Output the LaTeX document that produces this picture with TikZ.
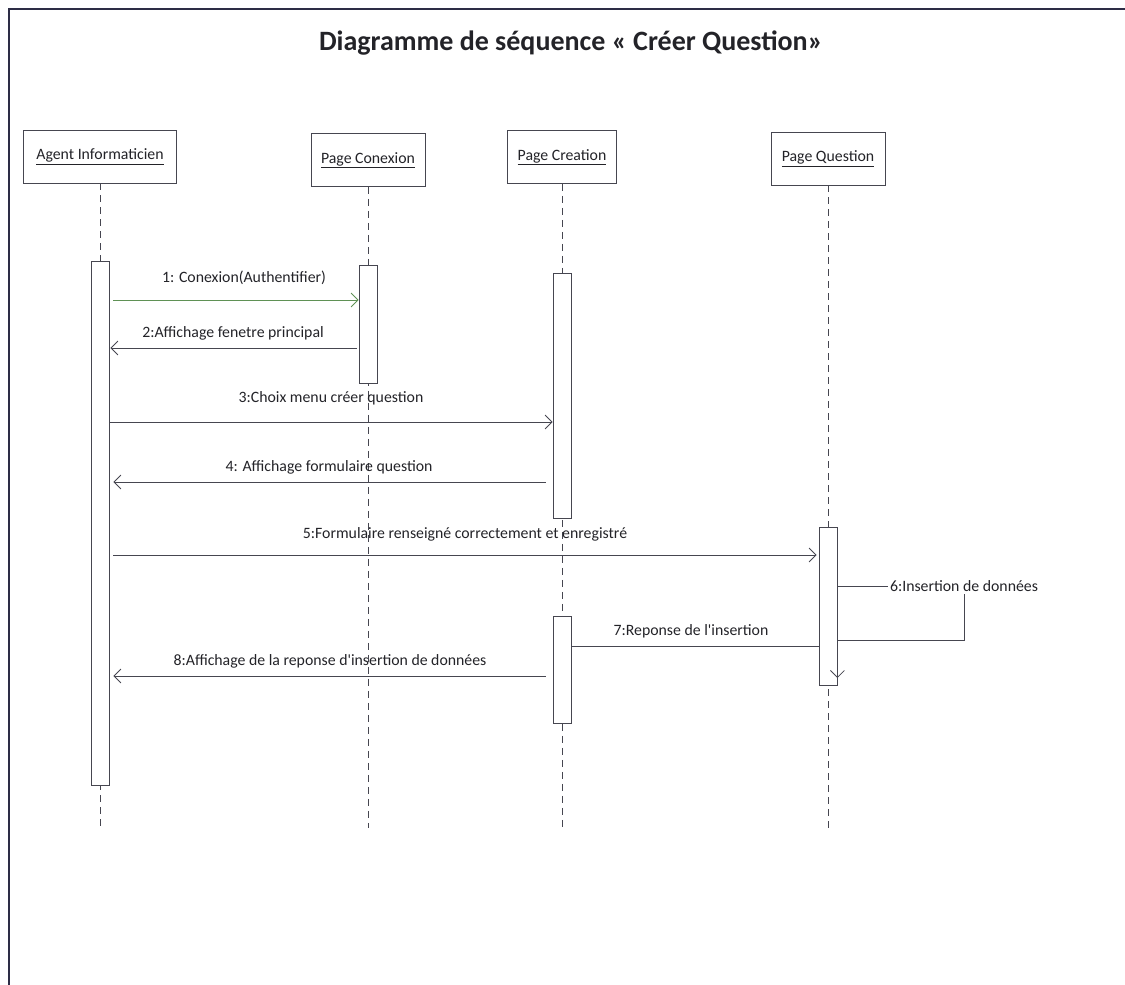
\documentclass[tikz,border=0pt]{standalone}
\usepackage{fontspec}
\setmainfont{Carlito}
\usetikzlibrary{arrows.meta}

\definecolor{linecol}{RGB}{70,70,80}
\definecolor{textcol}{RGB}{35,35,40}
\definecolor{framecol}{RGB}{45,45,70}
\definecolor{greencol}{RGB}{95,145,85}

\begin{document}
\begin{tikzpicture}[x=1pt,y=-1pt,
  lbl/.style={font=\fontsize{15.8}{18}\selectfont, text=textcol, inner sep=1pt},
  head/.style={draw=linecol, line width=0.8pt, fill=white, inner sep=0pt,
    minimum height=53pt, font=\fontsize{15.8}{18}\selectfont, text=textcol},
  lifeline/.style={draw=linecol, line width=0.8pt, dash pattern=on 7pt off 5pt},
  act/.style={draw=linecol, line width=0.8pt, fill=white, inner sep=0pt,
    minimum width=18pt},
  msg/.style={draw=linecol, line width=0.8pt},
  tip/.style={-{Straight Barb[length=7pt,width=14pt,line width=0.8pt]}}
]
\useasboundingbox (0,0) rectangle (1125,985);

% page frame (top and left edges)
\draw[framecol, line width=1.6pt] (9,985) -- (9,9) -- (1125,9);

% title
\node[font=\bfseries\fontsize{28}{32}\selectfont, text=textcol] (title) at (571,43)
  {Diagramme de séquence « Créer Question»};

% participants
\node[head, minimum width=153pt] (agent) at (100,156.5) {\underline{Agent Informaticien}};
\node[head, minimum width=114pt] (conx)  at (368,160)   {\underline{Page Conexion}};
\node[head, minimum width=109pt] (crea)  at (562,157)   {\underline{Page Creation}};
\node[head, minimum width=114pt] (ques)  at (828,158.5) {\underline{Page Question}};

% lifeline ends
\coordinate (agentEnd) at (100,828);
\coordinate (conxEnd)  at (368,828);
\coordinate (creaEnd)  at (562,828);
\coordinate (quesEnd)  at (828,828);

\draw[lifeline] (agent.south) -- (agentEnd);
\draw[lifeline] (conx.south)  -- (conxEnd);
\draw[lifeline] (crea.south)  -- (creaEnd);
\draw[lifeline] (ques.south)  -- (quesEnd);

% activation bars
\node[act, minimum height=524pt] (actA)  at (100,523)   {};
\node[act, minimum height=118pt] (actC)  at (368,324)   {};
\node[act, minimum height=245pt] (actR1) at (562,395.5) {};
\node[act, minimum height=158pt] (actQ)  at (828,606)   {};
\node[act, minimum height=107pt] (actR2) at (562,669.5) {};

% message labels
\node[lbl] (l1) at (244,278) {1: Conexion(Authentifier)};
\node[lbl] (l2) at (233,333) {2:Affichage fenetre principal};
\node[lbl] (l3) at (331,398) {3:Choix menu créer question};
\node[lbl] (l4) at (329,467) {4: Affichage formulaire question};
\node[lbl] (l5) at (465,534) {5:Formulaire renseigné correctement et enregistré};
\node[lbl] (l7) at (691,631) {7:Reponse de l\textquotesingle insertion};
\node[lbl] (l8) at (330,661) {8:Affichage de la reponse d\textquotesingle insertion de données};

% messages
\draw[msg, tip, draw=greencol, shorten <=4pt] (actA.east |- 0,300) -- (actC.west |- 0,300);
\draw[msg, tip, shorten <=2pt, shorten >=1pt] (actC.west |- 0,348) -- (actA.east |- 0,348);
\draw[msg, tip, shorten <=1pt] (actA.east |- 0,422) -- (actR1.west |- 0,422);
\draw[msg, tip, shorten <=7pt, shorten >=4pt] (actR1.west |- 0,482) -- (actA.east |- 0,482);
\draw[msg, tip, shorten <=4pt, shorten >=2pt] (actA.east |- 0,555) -- (actQ.west |- 0,555);

% self message on Page Question
\coordinate (s1) at (964,586);
\coordinate (s2) at (964,640);
\draw[msg] (actQ.east |- s1) -- (s1) -- (s2) -- (actQ.east |- s2);
\draw[msg, tip] (actQ.east |- s2) -- (actQ.east |- 0,678);
\node[lbl, fill=white, inner sep=2pt] (l6) at (s1) {6:Insertion de données};

\draw[msg] (actQ.west |- 0,646) -- (actR2.east |- 0,646);
\draw[msg, tip, shorten <=7pt, shorten >=4pt] (actR2.west |- 0,676) -- (actA.east |- 0,676);
\end{tikzpicture}
\end{document}
